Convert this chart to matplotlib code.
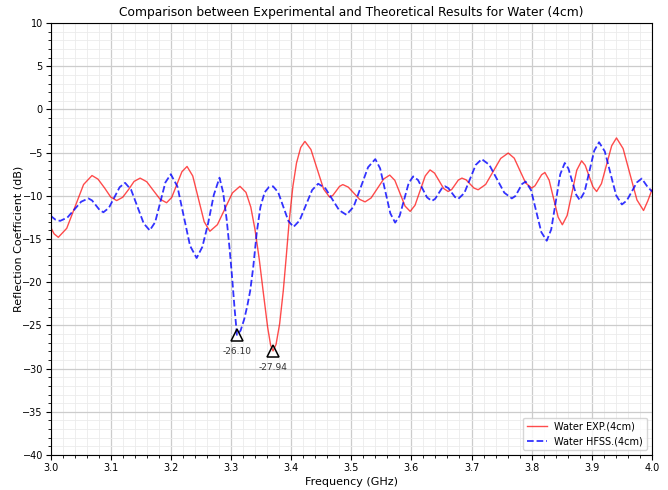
import numpy as np
import matplotlib
matplotlib.use('Agg')
import matplotlib.pyplot as plt
from matplotlib.ticker import MultipleLocator

# Water EXP. (4cm)
freq_exp = [3.000, 3.006, 3.013, 3.027, 3.041, 3.055, 3.069, 3.079, 3.090, 3.100, 3.110,
            3.120, 3.130, 3.139, 3.149, 3.160, 3.171, 3.182, 3.193, 3.2015, 3.210, 3.2185,
            3.227, 3.2365, 3.246, 3.2555, 3.265, 3.2775, 3.290, 3.3025, 3.315, 3.325, 3.333,
            3.340, 3.347, 3.354, 3.361, 3.366, 3.370, 3.375, 3.381, 3.387, 3.392, 3.397,
            3.403, 3.409, 3.416, 3.423, 3.433, 3.4435, 3.454, 3.464, 3.4695, 3.475, 3.4805,
            3.486, 3.495, 3.5045, 3.514, 3.523, 3.533, 3.5435, 3.554, 3.564, 3.5725, 3.581,
            3.5895, 3.598, 3.606, 3.6145, 3.623, 3.631, 3.6385, 3.646, 3.6535, 3.661, 3.667,
            3.6725, 3.678, 3.684, 3.691, 3.6975, 3.704, 3.711, 3.7235, 3.736, 3.7485, 3.761,
            3.771, 3.7805, 3.790, 3.800, 3.8055, 3.811, 3.8165, 3.822, 3.829, 3.8365, 3.844,
            3.851, 3.859, 3.867, 3.875, 3.883, 3.889, 3.8955, 3.902, 3.908, 3.916, 3.9245,
            3.933, 3.941, 3.952, 3.9635, 3.975, 3.986, 3.993, 4.000]
s11_exp = [-13.6, -14.4, -14.8, -13.76, -11.23, -8.69, -7.65, -8.07, -9.10, -10.13, -10.55,
           -10.17, -9.25, -8.33, -7.95, -8.37, -9.38, -10.38, -10.8, -10.19, -8.70, -7.21,
           -6.6, -7.70, -10.35, -13.0, -14.1, -13.34, -11.5, -9.66, -8.9, -9.6, -11.3,
           -13.9, -17.3, -21.3, -25.2, -27.3, -27.94, -27.2, -24.8, -21.0, -17.0, -12.8,
           -8.9, -6.2, -4.4, -3.7, -4.64, -6.93, -9.21, -10.15, -9.94, -9.43, -8.91,
           -8.7, -8.99, -9.7, -10.41, -10.7, -10.25, -9.15, -8.05, -7.6, -8.21, -9.7,
           -11.19, -11.8, -11.1, -9.4, -7.7, -7.0, -7.37, -8.25, -9.14, -9.5, -9.27,
           -8.73, -8.18, -7.95, -8.15, -8.63, -9.10, -9.3, -8.68, -7.18, -5.67, -5.05,
           -5.64, -7.08, -8.51, -9.1, -8.84, -8.2, -7.56, -7.3, -8.18, -10.33, -12.47,
           -13.35, -12.27, -9.65, -7.03, -5.95, -6.47, -7.73, -8.98, -9.5, -8.59, -6.4,
           -4.21, -3.3, -4.53, -7.5, -10.47, -11.7, -10.6, -9.3]

# Water HFSS (4cm)
freq_hfss = [3.000, 3.008, 3.016, 3.028, 3.0395, 3.051, 3.063, 3.069, 3.0755, 3.082, 3.088,
             3.097, 3.106, 3.115, 3.124, 3.134, 3.1445, 3.155, 3.165, 3.174, 3.1825, 3.191,
             3.200, 3.211, 3.2215, 3.232, 3.243, 3.2525, 3.262, 3.2715, 3.281, 3.287, 3.293,
             3.298, 3.302, 3.306, 3.310, 3.316, 3.322, 3.327, 3.332, 3.337, 3.343, 3.349,
             3.356, 3.363, 3.370, 3.3785, 3.387, 3.3955, 3.404, 3.414, 3.4245, 3.435, 3.445,
             3.457, 3.4685, 3.480, 3.492, 3.504, 3.516, 3.528, 3.540, 3.548, 3.5565, 3.565,
             3.573, 3.5805, 3.588, 3.5955, 3.603, 3.611, 3.6185, 3.626, 3.634, 3.6395, 3.645,
             3.6505, 3.656, 3.6615, 3.667, 3.6725, 3.678, 3.688, 3.6975, 3.707, 3.717, 3.7295,
             3.742, 3.7545, 3.767, 3.773, 3.7785, 3.784, 3.790, 3.799, 3.8075, 3.816, 3.825,
             3.8325, 3.840, 3.8475, 3.855, 3.861, 3.8675, 3.874, 3.880, 3.888, 3.896, 3.904,
             3.912, 3.9215, 3.931, 3.9405, 3.950, 3.958, 3.9665, 3.975, 3.983, 3.9915, 4.000]
s11_hfss = [-12.3, -12.75, -12.9, -12.52, -11.6, -10.68, -10.3, -10.53, -11.1, -11.67, -11.9,
            -11.4, -10.2, -9.0, -8.5, -9.3, -11.25, -13.2, -14.0, -13.05, -10.75, -8.45,
            -7.5, -8.92, -12.35, -15.78, -17.2, -15.9, -13.2, -9.9, -7.9, -9.6, -12.8,
            -16.3, -19.5, -23.0, -26.10, -25.6, -24.3, -22.8, -21.0, -18.3, -14.2, -11.3,
            -9.6, -9.0, -8.9, -9.59, -11.25, -12.91, -13.6, -12.87, -11.1, -9.33, -8.6,
            -9.13, -10.4, -11.67, -12.2, -11.26, -8.98, -6.69, -5.75, -6.82, -9.43, -12.03,
            -13.1, -12.32, -10.43, -8.53, -7.75, -8.17, -9.18, -10.18, -10.6, -10.35, -9.75,
            -9.15, -8.9, -9.11, -9.63, -10.14, -10.35, -9.68, -8.05, -6.42, -5.75, -6.41,
            -8.03, -9.64, -10.3, -10.02, -9.33, -8.63, -8.35, -9.35, -11.78, -14.2, -15.2,
            -13.89, -10.7, -7.51, -6.2, -6.83, -8.35, -9.87, -10.5, -9.52, -7.15, -4.78,
            -3.8, -4.85, -7.4, -9.95, -11.0, -10.56, -9.5, -8.44, -8.0, -8.85, -9.5]

fig, ax = plt.subplots(figsize=(6.68, 4.9), dpi=100)
fig.subplots_adjust(left=0.0756, right=0.976, top=0.953, bottom=0.0714)

ax.plot(freq_exp, s11_exp, color='red', alpha=0.7, linewidth=1.0, label='Water EXP.(4cm)')
ax.plot(freq_hfss, s11_hfss, color='blue', alpha=0.8, linewidth=1.3, linestyle='--',
        label='Water HFSS.(4cm)')

# mark the minimum of each curve
for f, s in [(freq_hfss, s11_hfss), (freq_exp, s11_exp)]:
    i = int(np.argmin(s))
    ax.plot(f[i], s[i], marker='^', markersize=8, markerfacecolor='none',
            markeredgecolor='black', markeredgewidth=1.1)
    ax.annotate(f'{s[i]:.2f}', (f[i], s[i]), xytext=(0, -12), textcoords='offset points',
                ha='center', va='center', fontsize=6.5, color='#333333')

ax.set_xlim(3.0, 4.0)
ax.set_ylim(-40, 10)
ax.xaxis.set_major_locator(MultipleLocator(0.1))
ax.xaxis.set_minor_locator(MultipleLocator(0.02))
ax.yaxis.set_major_locator(MultipleLocator(5))
ax.yaxis.set_minor_locator(MultipleLocator(1))
ax.grid(which='major', color='#cccccc', linewidth=0.9)
ax.grid(which='minor', color='#ebebeb', linewidth=0.6)
ax.tick_params(labelsize=7, pad=2)
ax.tick_params(which='minor', length=2)

ax.set_title('Comparison between Experimental and Theoretical Results for Water (4cm)',
             fontsize=8.8, pad=5)
ax.set_xlabel('Frequency (GHz)', fontsize=8, labelpad=3)
ax.set_ylabel('Reflection Coefficient (dB)', fontsize=8, labelpad=-1)
ax.legend(loc='lower right', fontsize=7)

fig.savefig('out.png', dpi=100)
